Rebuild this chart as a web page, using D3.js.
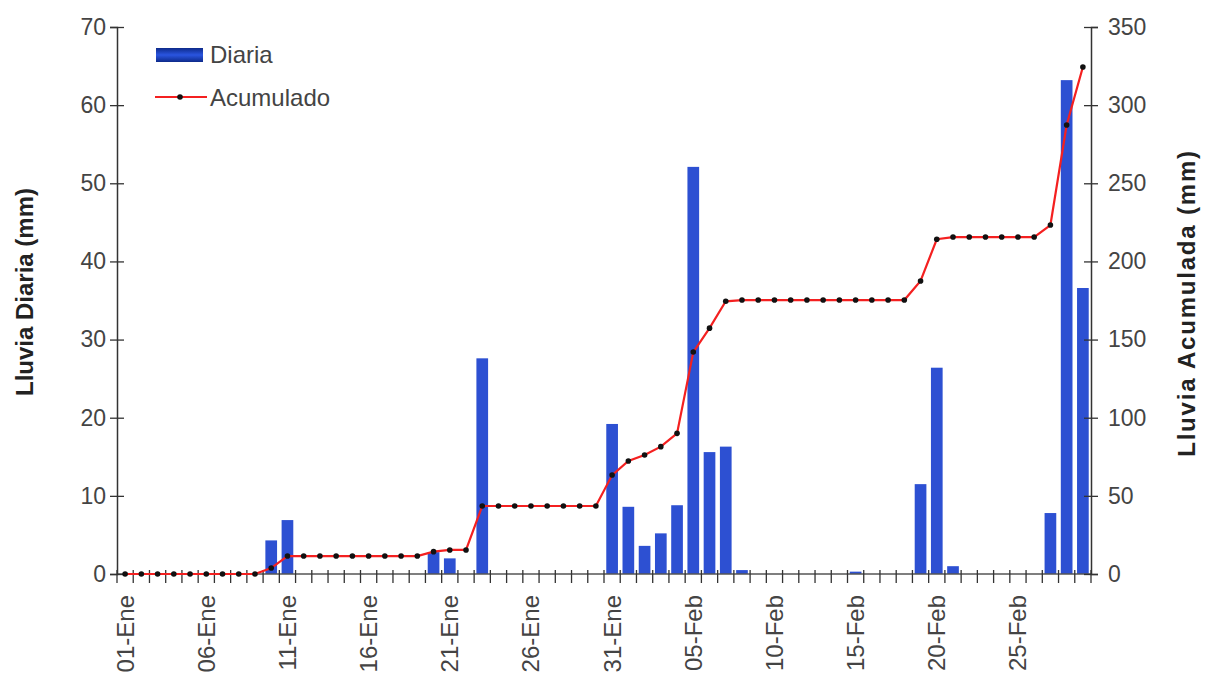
<!DOCTYPE html>
<html>
<head>
<meta charset="utf-8">
<script src="https://cdn.jsdelivr.net/npm/d3@7"></script>
<style>
  body { margin: 0; background: #fff; }
  text { font-family: "Liberation Sans", Arial, sans-serif; }
</style>
</head>
<body>
<div id="chart"></div>
<script>
// dias del periodo (01-Ene .. 29-Feb)
const fechas = [
    "01-Ene","02-Ene","03-Ene","04-Ene","05-Ene","06-Ene","07-Ene","08-Ene","09-Ene","10-Ene",
    "11-Ene","12-Ene","13-Ene","14-Ene","15-Ene","16-Ene","17-Ene","18-Ene","19-Ene","20-Ene",
    "21-Ene","22-Ene","23-Ene","24-Ene","25-Ene","26-Ene","27-Ene","28-Ene","29-Ene","30-Ene",
    "31-Ene","01-Feb","02-Feb","03-Feb","04-Feb","05-Feb","06-Feb","07-Feb","08-Feb","09-Feb",
    "10-Feb","11-Feb","12-Feb","13-Feb","14-Feb","15-Feb","16-Feb","17-Feb","18-Feb","19-Feb",
    "20-Feb","21-Feb","22-Feb","23-Feb","24-Feb","25-Feb","26-Feb","27-Feb","28-Feb","29-Feb"
];

const etiquetas = ["01-Ene","06-Ene","11-Ene","16-Ene","21-Ene","26-Ene","31-Ene",
    "05-Feb","10-Feb","15-Feb","20-Feb","25-Feb"];

// lluvia diaria (mm)
const diaria = [
    0, 0, 0, 0, 0, 0, 0, 0, 0, 4.3,
    6.9, 0, 0, 0, 0, 0, 0, 0, 0, 2.8,
    2.0, 0, 27.6, 0, 0, 0, 0, 0, 0, 0,
    19.2, 8.6, 3.6, 5.2, 8.8, 52.1, 15.6, 16.3, 0.5, 0,
    0, 0, 0, 0, 0, 0.3, 0, 0, 0, 11.5,
    26.4, 1.0, 0, 0, 0, 0, 0, 7.8, 63.2, 36.6
];

// lluvia acumulada (mm)
const acumulado = [
    0, 0, 0, 0, 0, 0, 0, 0, 0, 3.8,
    11.5, 11.5, 11.5, 11.5, 11.5, 11.5, 11.5, 11.5, 11.5, 14.3,
    15.4, 15.4, 43.5, 43.5, 43.5, 43.5, 43.5, 43.5, 43.5, 43.5,
    63.3, 72.3, 76.1, 81.5, 90.0, 142.0, 157.3, 174.5, 175.3, 175.3,
    175.3, 175.3, 175.3, 175.3, 175.3, 175.3, 175.3, 175.3, 175.3, 187.5,
    214.2, 215.6, 215.6, 215.6, 215.6, 215.6, 215.6, 223.3, 287.3, 324.4
];

const ticksDiaria = [0, 10, 20, 30, 40, 50, 60, 70];
const ticksAcum = [0, 50, 100, 150, 200, 250, 300, 350];

const width = 1206;
const height = 675;
const margin = { top: 27, right: 115, bottom: 101, left: 117 };

const svg = d3.select('#chart')
    .append('svg')
    .attr('width', width)
    .attr('height', height);

const x = d3.scaleBand()
    .domain(fechas)
    .range([margin.left, width - margin.right]);

const yL = d3.scaleLinear().domain([0, 70]).range([height - margin.bottom, margin.top]);
const yR = d3.scaleLinear().domain([0, 350]).range([height - margin.bottom, margin.top]);

const bw = x.bandwidth();
const cx = d => x(d) + bw / 2;
const y0 = height - margin.bottom;

const defs = svg.append('defs');
const grad = defs.append('linearGradient').attr('id', 'leg').attr('x1', 0).attr('x2', 0).attr('y1', 0).attr('y2', 1);
grad.append('stop').attr('offset', '0%').attr('stop-color', '#0d2a8a');
grad.append('stop').attr('offset', '50%').attr('stop-color', '#2a55e0');
grad.append('stop').attr('offset', '100%').attr('stop-color', '#0d2a8a');

// barras
svg.append('g')
    .selectAll('rect')
    .data(fechas)
    .join('rect')
    .attr('x', d => x(d) + bw * 0.14)
    .attr('width', bw * 0.72)
    .attr('y', (d, i) => yL(diaria[i]))
    .attr('height', (d, i) => y0 - yL(diaria[i]))
    .style('fill', '#2d50d2');

// eje x
const ax = svg.append('g').attr('transform', `translate(0,${y0})`);
ax.append('line')
    .attr('x1', margin.left).attr('x2', width - margin.right)
    .attr('y1', 0).attr('y2', 0)
    .style('stroke', '#555').style('stroke-width', 1.5);
ax.selectAll('line.tk')
    .data(fechas.concat(['fin']))
    .join('line')
    .attr('class', 'tk')
    .attr('x1', (d, i) => i < fechas.length ? x(d) : x.range()[1])
    .attr('x2', (d, i) => i < fechas.length ? x(d) : x.range()[1])
    .attr('y1', -4).attr('y2', 9)
    .style('stroke', '#333').style('stroke-width', 1.3);
ax.selectAll('text')
    .data(etiquetas)
    .join('text')
    .attr('transform', d => `translate(${cx(d)},21)rotate(-90)`)
    .attr('dy', '0.35em')
    .attr('text-anchor', 'end')
    .style('font-size', '24px')
    .style('fill', '#444')
    .text(d => d);

// eje izquierdo
const gL = svg.append('g')
    .attr('transform', `translate(${margin.left},0)`)
    .call(d3.axisLeft(yL).tickValues(ticksDiaria).tickSizeOuter(0).tickSize(7).tickPadding(4));
gL.selectAll('.tick line').attr('x1', -7).attr('x2', 7);
gL.selectAll('.tick text').style('font-size', '23px').style('fill', '#444')
    .style('font-family', '"Liberation Sans", Arial, sans-serif');
gL.select('.domain').style('stroke', '#333').style('stroke-width', 1.5);
gL.selectAll('.tick line').style('stroke', '#333').style('stroke-width', 1.3);

// eje derecho
const gR = svg.append('g')
    .attr('transform', `translate(${width - margin.right},0)`)
    .call(d3.axisRight(yR).tickValues(ticksAcum).tickSizeOuter(0).tickSize(7).tickPadding(10));
gR.selectAll('.tick line').attr('x1', -7).attr('x2', 7);
gR.selectAll('.tick text').style('font-size', '23px').style('fill', '#444')
    .style('font-family', '"Liberation Sans", Arial, sans-serif');
gR.select('.domain').style('stroke', '#333').style('stroke-width', 1.5);
gR.selectAll('.tick line').style('stroke', '#333').style('stroke-width', 1.3);

// linea acumulada
const line = d3.line()
    .x((d, i) => cx(fechas[i]))
    .y(d => yR(d));

svg.append('path')
    .datum(acumulado)
    .attr('d', line)
    .style('fill', 'none')
    .style('stroke', '#f42020')
    .style('stroke-width', 2.2);

svg.append('g')
    .selectAll('circle')
    .data(acumulado)
    .join('circle')
    .attr('cx', (d, i) => cx(fechas[i]))
    .attr('cy', d => yR(d))
    .attr('r', 2.8)
    .style('fill', '#111');

// titulos de ejes
svg.append('text')
    .attr('transform', 'translate(33,292)rotate(-90)')
    .attr('text-anchor', 'middle')
    .style('font-size', '24px')
    .style('font-weight', 'bold')
    .style('fill', '#222')
    .text('Lluvia Diaria (mm)');

svg.append('text')
    .attr('transform', 'translate(1195,303)rotate(-90)')
    .attr('text-anchor', 'middle')
    .style('font-size', '24px')
    .style('font-weight', 'bold')
    .style('letter-spacing', '1.8px')
    .style('fill', '#222')
    .text('Lluvia Acumulada (mm)');

// leyenda
const leg = svg.append('g');
leg.append('rect')
    .attr('x', 156).attr('y', 48).attr('width', 47).attr('height', 14)
    .style('fill', 'url(#leg)');
leg.append('text')
    .attr('x', 210).attr('y', 63)
    .style('font-size', '24px').style('fill', '#444')
    .text('Diaria');
leg.append('line')
    .attr('x1', 155).attr('x2', 207).attr('y1', 97).attr('y2', 97)
    .style('stroke', '#f42020').style('stroke-width', 2.2);
leg.append('circle')
    .attr('cx', 180).attr('cy', 97).attr('r', 2.8)
    .style('fill', '#111');
leg.append('text')
    .attr('x', 210).attr('y', 106)
    .style('font-size', '24px').style('fill', '#444')
    .text('Acumulado');
</script>
</body>
</html>
